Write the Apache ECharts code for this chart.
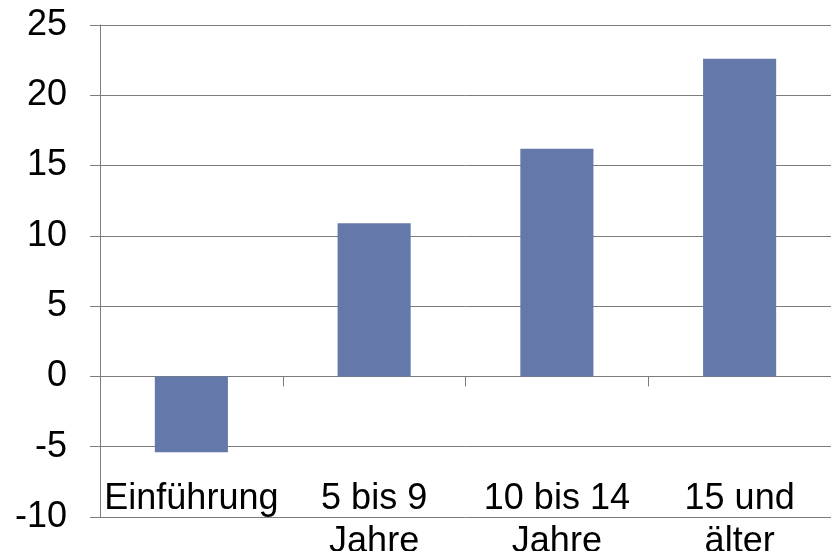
<!DOCTYPE html>
<html>
<head>
<meta charset="utf-8">
<script src="https://cdn.jsdelivr.net/npm/echarts@6/dist/echarts.min.js"></script>
<style>
  html, body { margin: 0; padding: 0; background: #fff; }
  #chart { width: 831px; height: 551px; }
</style>
</head>
<body>
<div id="chart"></div>
<script>
// Categories (age groups) and the change value for each
const categories = ['Einführung', '5 bis 9\nJahre', '10 bis 14\nJahre', '15 und\nälter'];
const values = [-5.4, 10.9, 16.2, 22.6];

// Value-axis range
const yMin = -10;
const yMax = 25;
const yStep = 5;

const FONT = '"Liberation Sans", Arial, sans-serif';
const LINE = '#7c7c7c';

const chart = echarts.init(document.getElementById('chart'), null, { renderer: 'canvas' });

chart.setOption({
  backgroundColor: '#ffffff',
  animation: false,
  grid: { left: 100, right: 0, top: 25, bottom: 34, containLabel: false, outerBoundsMode: 'none' },
  xAxis: [
    {
      // axis line through zero with boundary ticks, no labels
      type: 'category',
      data: categories,
      boundaryGap: true,
      axisLine: { onZero: true, lineStyle: { color: LINE, width: 1 } },
      axisTick: { show: true, length: 10, inside: false, lineStyle: { color: LINE, width: 1 } },
      axisLabel: { show: false },
      splitLine: { show: false }
    },
    {
      // category labels sitting at the low end of the plot
      type: 'category',
      data: categories,
      position: 'bottom',
      boundaryGap: true,
      axisLine: { show: false, onZero: false },
      axisTick: { show: false },
      axisLabel: {
        show: true,
        margin: -39,
        interval: 0,
        color: '#000',
        fontFamily: FONT,
        fontSize: 36,
        lineHeight: 43
      },
      splitLine: { show: false }
    }
  ],
  yAxis: {
    type: 'value',
    min: yMin,
    max: yMax,
    interval: yStep,
    axisLine: { show: true, lineStyle: { color: LINE, width: 1 } },
    axisTick: { show: true, length: 10, inside: false, lineStyle: { color: LINE, width: 1 } },
    axisLabel: {
      margin: 33,
      color: '#000',
      fontFamily: FONT,
      fontSize: 36
    },
    splitLine: { show: true, lineStyle: { color: LINE, width: 1 } }
  },
  series: [
    {
      type: 'bar',
      xAxisIndex: 0,
      data: values,
      barCategoryGap: '60%',
      itemStyle: { color: '#6479A9' },
      emphasis: { disabled: true }
    }
  ]
});
</script>
</body>
</html>
